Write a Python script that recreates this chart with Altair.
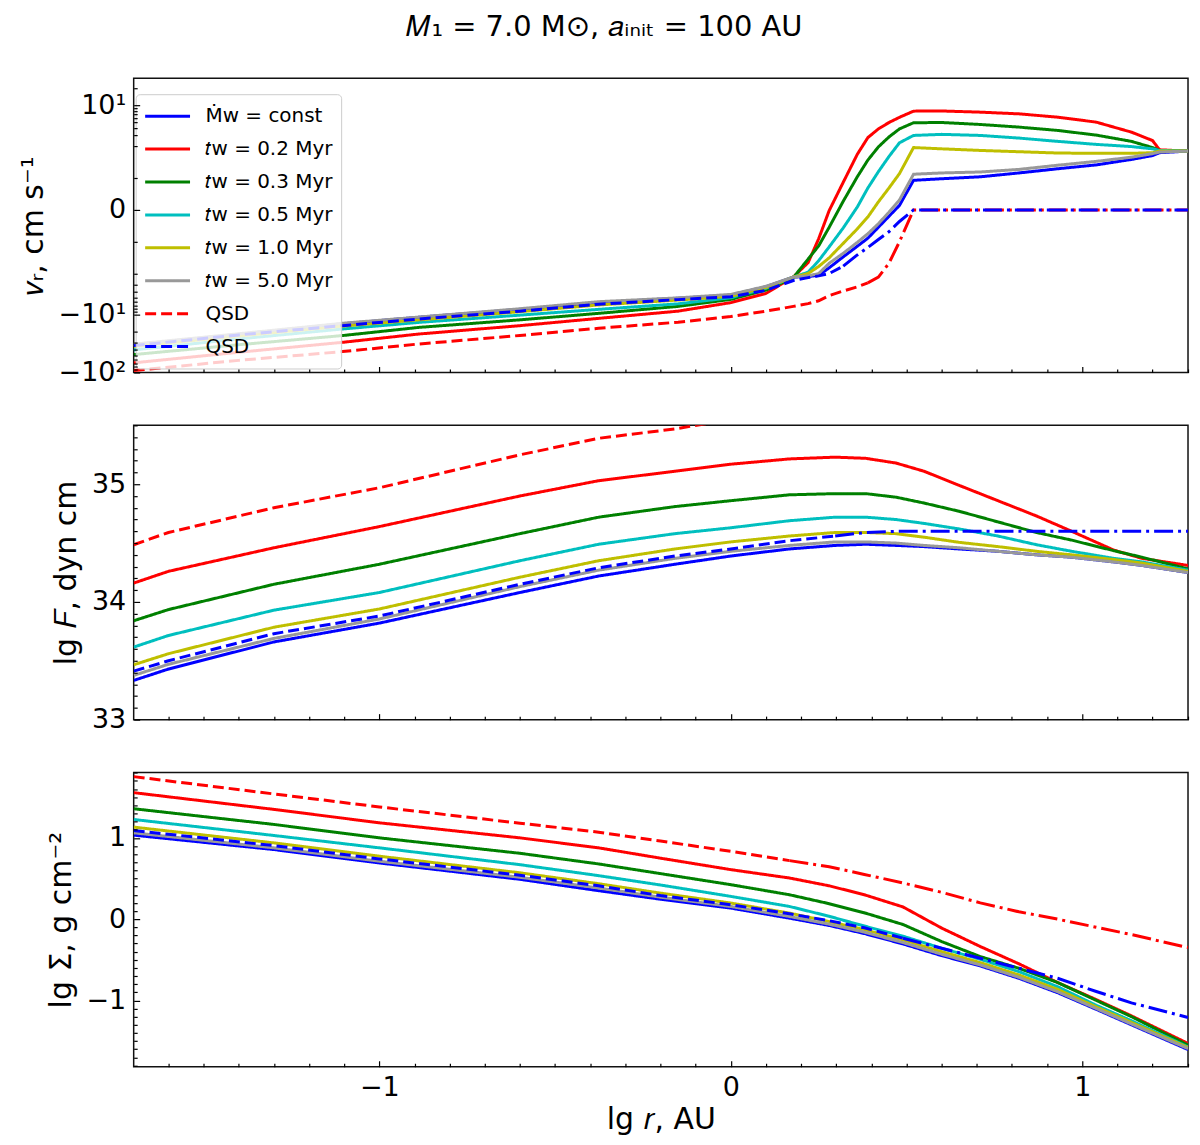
import math
import altair as alt
import pandas as pd

FONT = "DejaVu Sans"

# ---------------- series keys (legend labels) ----------------
KEYS = ["Ṁw = const", "𝑡w = 0.2 Myr", "𝑡w = 0.3 Myr", "𝑡w = 0.5 Myr",
        "𝑡w = 1.0 Myr", "𝑡w = 5.0 Myr", "QSD", "QSD "]
OUTER_KEYS = ["QSD (outer, red)", "QSD (outer, blue)"]
COLORS = ["#0000ff", "#ff0000", "#008000", "#00bfbf", "#bfbf00", "#999999",
          "#ff0000", "#0000ff"]
OUTER_COLORS = ["#ff0000", "#0000ff"]

# ---------------- top panel: v_r (symlog axis) ----------------
XT = [-1.699, -1.4, -1.105, -0.887, -0.6, -0.376, -0.15, 0.0, 0.1, 0.178, 0.22,
      0.25, 0.28, 0.32, 0.36, 0.39, 0.42, 0.45, 0.48, 0.52, 0.6, 0.71, 0.82,
      0.93, 1.04, 1.14, 1.2, 1.22, 1.301]
VR_CONST = [-33.1, -21.9, -14.4, -11.1, -8.1, -6.2, -5.2, -4.6, -3.3, -2.24, -2.19,
            -2.09, -1.8, -1.46, -1.13, -0.88, -0.54, -0.20, 0.14, 0.92, 0.97, 1.03,
            1.15, 1.28, 1.40, 1.57, 1.69, 1.78, 1.83]
VR_02 = [-68.1, -44.7, -30.1, -21.6, -15.5, -11.6, -8.7, -6.2, -4.29, -2.24, -1.64,
         -0.90, -0.02, 0.86, 1.73, 2.75, 3.89, 5.01, 6.17, 7.89, 7.94, 7.58, 7.08,
         6.21, 5.09, 3.42, 2.45, 1.87, 1.83]
VR_03 = [-49.0, -33.1, -23.0, -16.6, -12.3, -9.5, -7.2, -5.45, -3.76, -2.29, -1.53,
         -1.12, -0.54, 0.27, 1.03, 1.55, 1.96, 2.82, 3.89, 4.97, 5.02, 4.64, 4.18,
         3.66, 3.04, 2.37, 1.94, 1.85, 1.83]
VR_05 = [-40.7, -26.3, -17.7, -13.6, -10.2, -8.1, -6.5, -5.1, -3.5, -2.24, -1.94,
         -1.58, -1.15, -0.56, 0.09, 0.68, 1.19, 1.66, 2.24, 3.0, 3.13, 3.0, 2.7,
         2.37, 2.1, 1.97, 1.9, 1.85, 1.83]
VR_10 = [-35.5, -23.4, -15.8, -12.3, -8.9, -6.8, -5.6, -4.8, -3.4, -2.24, -1.98,
         -1.76, -1.49, -1.04, -0.59, -0.22, 0.25, 0.68, 1.13, 1.94, 1.90, 1.85, 1.81,
         1.77, 1.76, 1.76, 1.78, 1.83, 1.83]
VR_50 = [-32.4, -21.4, -14.1, -11.0, -7.9, -5.97, -5.13, -4.47, -3.24, -2.24, -2.14,
         -1.98, -1.66, -1.35, -1.01, -0.74, -0.43, -0.07, 0.31, 1.11, 1.15, 1.18,
         1.26, 1.39, 1.51, 1.64, 1.75, 1.8, 1.83]
VR_QSD_R = [-92.5, -61.7, -43.5, -32.1, -22.9, -17.2, -13.5, -10.8, -8.7, -7.2, -6.45,
            -5.75, -4.68, -3.9, -3.31, -2.82, -2.25, -1.66, -0.99, 0.0, 0.0, 0.0, 0.0,
            0.0, 0.0, 0.0, 0.0, 0.0, 0.0]
VR_QSD_B = [-34.3, -22.4, -15.5, -11.9, -8.7, -6.6, -5.5, -4.9, -3.8, -2.57, -2.29,
            -2.14, -1.98, -1.75, -1.40, -1.17, -0.92, -0.68, -0.36, 0.0, 0.0, 0.0, 0.0,
            0.0, 0.0, 0.0, 0.0, 0.0, 0.0]
TOP_BREAK_R, TOP_BREAK_B = 0.39, 0.32

# ---------------- middle panel: lg F ----------------
XM = [-1.699, -1.6, -1.3, -1.0, -0.6, -0.376, -0.159, 0.0, 0.167, 0.297, 0.384,
      0.47, 0.55, 0.65, 0.76, 0.87, 0.97, 1.09, 1.17, 1.301]
LF_CONST = [33.333, 33.43, 33.66, 33.82, 34.08, 34.22, 34.32, 34.39, 34.45, 34.48,
            34.49, 34.48, 34.47, 34.45, 34.43, 34.40, 34.38, 34.34, 34.31, 34.25]
LF_02 = [34.16, 34.26, 34.46, 34.64, 34.90, 35.03, 35.11, 35.17, 35.215, 35.23,
         35.22, 35.18, 35.11, 34.99, 34.86, 34.73, 34.60, 34.44, 34.37, 34.31]
LF_03 = [33.84, 33.935, 34.15, 34.32, 34.58, 34.72, 34.81, 34.86, 34.91, 34.92,
         34.92, 34.89, 34.84, 34.77, 34.68, 34.59, 34.525, 34.435, 34.38, 34.28]
LF_05 = [33.616, 33.715, 33.93, 34.08, 34.35, 34.49, 34.58, 34.63, 34.69, 34.72,
         34.72, 34.70, 34.667, 34.62, 34.56, 34.486, 34.43, 34.37, 34.34, 34.27]
LF_10 = [33.466, 33.56, 33.785, 33.94, 34.21, 34.35, 34.45, 34.51, 34.56, 34.59,
         34.59, 34.58, 34.55, 34.506, 34.47, 34.43, 34.40, 34.36, 34.33, 34.26]
LF_50 = [33.376, 33.47, 33.69, 33.855, 34.13, 34.27, 34.37, 34.43, 34.48, 34.51,
         34.51, 34.50, 34.48, 34.46, 34.43, 34.40, 34.38, 34.34, 34.31, 34.25]
LF_QSD_R = [34.486, 34.59, 34.80, 34.97, 35.25, 35.39, 35.47, 35.55, None, None,
            None, None, None, None, None, None, None, None, None, None]
LF_QSD_B = [33.412, 33.50, 33.73, 33.88, 34.15, 34.29, 34.39, 34.45, 34.52, 34.56,
            34.59, 34.60, 34.60, 34.60, 34.60, 34.60, 34.60, 34.60, 34.60, 34.60]
MID_BREAK_R, MID_BREAK_B = None, 0.297

# ---------------- bottom panel: lg Sigma ----------------
XB = [-1.699, -1.3, -1.0, -0.6, -0.376, -0.2, 0.0, 0.167, 0.28, 0.38, 0.49, 0.6,
      0.71, 0.82, 0.93, 1.04, 1.14, 1.301]
LS_CONST = [1.033, 0.856, 0.691, 0.49, 0.35, 0.245, 0.136, 0.012, -0.078, -0.177,
            -0.305, -0.449, -0.576, -0.728, -0.905, -1.11, -1.30, -1.605]
LS_02 = [1.556, 1.35, 1.185, 1.00, 0.877, 0.75, 0.609, 0.506, 0.41, 0.30, 0.15,
         -0.11, -0.337, -0.55, -0.78, -0.99, -1.19, -1.53]
LS_03 = [1.358, 1.165, 1.0, 0.81, 0.679, 0.56, 0.424, 0.30, 0.19, 0.078, -0.066,
         -0.276, -0.461, -0.605, -0.78, -1.0, -1.2, -1.55]
LS_05 = [1.226, 1.029, 0.877, 0.67, 0.535, 0.42, 0.28, 0.156, 0.035, -0.085, -0.21,
         -0.358, -0.494, -0.646, -0.831, -1.06, -1.25, -1.572]
LS_10 = [1.132, 0.938, 0.774, 0.57, 0.436, 0.32, 0.198, 0.074, -0.03, -0.128, -0.255,
         -0.40, -0.535, -0.687, -0.864, -1.08, -1.27, -1.58]
LS_50 = [1.062, 0.877, 0.712, 0.515, 0.383, 0.27, 0.156, 0.033, -0.062, -0.16, -0.288,
         -0.432, -0.564, -0.716, -0.893, -1.10, -1.29, -1.593]
LS_QSD_R = [1.753, 1.54, 1.38, 1.18, 1.07, 0.96, 0.835, 0.72, 0.645, 0.55, 0.445,
            0.33, 0.20, 0.09, 0.0, -0.10, -0.19, -0.35]
LS_QSD_B = [1.09, 0.905, 0.741, 0.54, 0.41, 0.29, 0.177, 0.066, -0.02, -0.107,
            -0.235, -0.358, -0.481, -0.605, -0.728, -0.89, -1.03, -1.21]
BOT_BREAK_R, BOT_BREAK_B = 0.167, 0.49

# ---------------- axes ----------------
X_DOMAIN = [-1.699, 1.301]
X_MAJOR = [-1, 0, 1]
X_MINOR = [round(-1.6 + 0.1 * i, 1) for i in range(30)]
X_MINOR = [v for v in X_MINOR if abs(v - round(v)) > 1e-9]

LIN = 2.0
LSA = 1.0 / (1.0 - 1.0 / 10.0)


def symlog(v):
    a = abs(v)
    if a <= LIN:
        return v / LIN * LSA
    return math.copysign(LSA + math.log10(a / LIN), v)


TOP_DOMAIN = [symlog(-100.0), symlog(29.2)]
TOP_MAJOR = [symlog(10.0), 0.0, symlog(-10.0), symlog(-100.0)]
TOP_MINOR = [symlog(s * v) for s in (1, -1) for v in range(1, 10)] + \
            [symlog(20.0)] + [symlog(-10.0 * k) for k in range(2, 10)]
TOP_LABELS = ("datum.value > 1 ? '10¹' : (datum.value > -1 ? '0' : "
              "(datum.value > -2.3 ? '−10¹' : '−10²'))")

MID_DOMAIN = [33.0, 35.5]
MID_MAJOR = [33, 34, 35]
MID_MINOR = [round(33 + 0.1 * i, 1) for i in range(1, 26) if i % 10 != 0]

BOT_DOMAIN = [-1.816, 1.804]
BOT_MAJOR = [-1, 0, 1]
BOT_MINOR = [round(-1.8 + 0.1 * i, 1) for i in range(37)]
BOT_MINOR = [v for v in BOT_MINOR if abs(v - round(v)) > 1e-9]

ALL_KEYS = KEYS + OUTER_KEYS
ALL_COLORS = COLORS + OUTER_COLORS
DASH = [11, 5]
DASHDOT = [19, 5, 3, 5]
ALL_DASH = [[1, 0]] * 6 + [DASH, DASH, DASHDOT, DASHDOT]

PLOT_W, PLOT_H = 1057, 295


def long_table(xs, series, break_r, break_b, transform=None):
    inner, outer = [], []
    brk = {6: (break_r, OUTER_KEYS[0]), 7: (break_b, OUTER_KEYS[1])}
    for i, (key, vals) in enumerate(zip(KEYS, series)):
        b, okey = brk.get(i, (None, None))
        for x, v in zip(xs, vals):
            if v is None:
                continue
            y = transform(v) if transform else v
            if b is None or x <= b + 1e-9:
                inner.append({"key": key, "x": x, "y": y})
            if b is not None and x >= b - 1e-9:
                outer.append({"key": okey, "x": x, "y": y})
    return pd.DataFrame(inner + outer)


LEGEND = alt.Legend(
    values=KEYS, title=None, orient="none", legendX=2, legendY=16,
    symbolType="stroke", symbolSize=2025, symbolStrokeWidth=3,
    labelFont=FONT, labelFontSize=20, labelColor="black", labelOffset=14,
    labelLimit=0, padding=8, rowPadding=5, clipHeight=28,
    fillColor="rgba(255,255,255,0.8)", strokeColor="#cccccc", cornerRadius=4,
)


def panel(df, ydomain, ymajor, yminor, ytitle, label_expr=None, yformat=None,
          xlabels=False, legend=None):
    xs = alt.Scale(domain=X_DOMAIN, nice=False, zero=False)
    ys = alt.Scale(domain=ydomain, nice=False, zero=False)
    if xlabels:
        xaxis = alt.Axis(values=X_MAJOR, format="d", ticks=False, domain=False,
                         grid=False, labelPadding=8, title="lg 𝑟, AU",
                         titlePadding=4, labelFlush=False, labelOverlap=False)
    else:
        xaxis = None
    ykw = dict(values=ymajor, ticks=False, domain=False, grid=False, labelPadding=8,
               title=ytitle, titlePadding=10, labelOverlap=False, labelFlush=False)
    if label_expr:
        ykw["labelExpr"] = label_expr
    if yformat:
        ykw["format"] = yformat
    lines = alt.Chart(df).mark_line(strokeWidth=3, clip=True).encode(
        x=alt.X("x:Q", scale=xs, axis=xaxis),
        y=alt.Y("y:Q", scale=ys, axis=alt.Axis(**ykw)),
        color=alt.Color("key:N", scale=alt.Scale(domain=ALL_KEYS, range=ALL_COLORS),
                        legend=legend),
        strokeDash=alt.StrokeDash("key:N",
                                  scale=alt.Scale(domain=ALL_KEYS, range=ALL_DASH),
                                  legend=legend),
    )
    frame_df = pd.DataFrame({"x": X_DOMAIN, "y": ydomain})

    def ticks(xv, yv, size):
        common = dict(offset=-size, tickSize=size, tickWidth=1.2, tickColor="black",
                      labels=False, domain=False, grid=False, title=None, zindex=3)
        return alt.Chart(frame_df).mark_point(opacity=0).encode(
            x=alt.X("x:Q", scale=xs, axis=alt.Axis(values=xv, orient="bottom", **common)),
            y=alt.Y("y:Q", scale=ys, axis=alt.Axis(values=yv, orient="left", **common)),
        )

    return alt.layer(lines, ticks(X_MAJOR, ymajor, 6), ticks(X_MINOR, yminor, 3.5)) \
        .resolve_axis(x="independent", y="independent") \
        .properties(width=PLOT_W, height=PLOT_H)


df_top = long_table(XT, [VR_CONST, VR_02, VR_03, VR_05, VR_10, VR_50, VR_QSD_R, VR_QSD_B],
                    TOP_BREAK_R, TOP_BREAK_B, transform=symlog)
df_mid = long_table(XM, [LF_CONST, LF_02, LF_03, LF_05, LF_10, LF_50, LF_QSD_R, LF_QSD_B],
                    MID_BREAK_R, MID_BREAK_B)
df_bot = long_table(XB, [LS_CONST, LS_02, LS_03, LS_05, LS_10, LS_50, LS_QSD_R, LS_QSD_B],
                    BOT_BREAK_R, BOT_BREAK_B)

top = panel(df_top, TOP_DOMAIN, TOP_MAJOR, TOP_MINOR, "𝑣ᵣ, cm s⁻¹",
            label_expr=TOP_LABELS, legend=LEGEND)
mid = panel(df_mid, MID_DOMAIN, MID_MAJOR, MID_MINOR, "lg 𝐹, dyn cm", yformat="d")
bot = panel(df_bot, BOT_DOMAIN, BOT_MAJOR, BOT_MINOR, "lg Σ, g cm⁻²", yformat="d",
            xlabels=True)

chart = alt.vconcat(
    top, mid, bot, spacing=53, bounds="flush",
    title=alt.Title("𝑀₁ = 7.0 M⊙, 𝑎ᵢₙᵢₜ = 100 AU", fontSize=29, font=FONT,
                    fontWeight="normal", anchor="middle", offset=33,
                    color="black"),
).resolve_scale(color="independent", strokeDash="independent").properties(
    padding={"left": 9, "top": 3, "right": 0, "bottom": 0}
).configure(font=FONT).configure_view(
    stroke="#111111", strokeWidth=1.5
).configure_axis(
    labelFont=FONT, titleFont=FONT, labelFontSize=27, titleFontSize=30,
    labelColor="black", titleColor="black", titleFontWeight="normal"
)

chart.save("out.html", embed_options={"renderer": "svg", "actions": False})
